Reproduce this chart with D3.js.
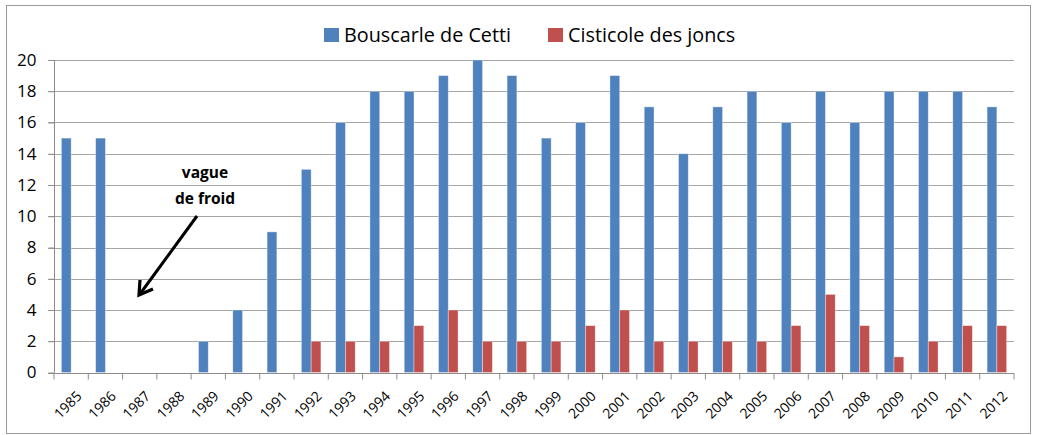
<!DOCTYPE html>
<html>
<head>
<meta charset="utf-8">
<script src="https://cdn.jsdelivr.net/npm/d3@7"></script>
<style>
  body { margin: 0; background: #fff; }
  svg text { font-family: "Open Sans", "Noto Sans", sans-serif; fill: #000; }
</style>
</head>
<body>
<div id="graf"></div>
<script>
// Données
var annees = ["1985","1986","1987","1988","1989","1990","1991","1992","1993","1994",
  "1995","1996","1997","1998","1999","2000","2001","2002","2003","2004",
  "2005","2006","2007","2008","2009","2010","2011","2012"];
var bouscarle = [15,15,0,0,2,4,9,13,16,18,18,19,20,19,15,16,19,17,14,17,18,16,18,16,18,18,18,17];
var cisticole = [0,0,0,0,0,0,0,2,2,2,3,4,2,2,2,3,4,2,2,2,2,3,5,3,1,2,3,3];
var series = ["Bouscarle de Cetti", "Cisticole des joncs"];
var yTicks = [0,2,4,6,8,10,12,14,16,18,20];

var ancho_total = 1038, alto_total = 435;
var margins = { top: 60, left: 54, right: 24, bottom: 62 };
var ancho = 1014 - margins.left;
var alto = 372.5 - margins.top;

var svg = d3.select("#graf").append("svg")
  .attr("width", ancho_total)
  .attr("height", alto_total);

// cadre
svg.append("rect")
  .attr("x", 6.5).attr("y", 5.5)
  .attr("width", 1024).attr("height", 428)
  .attr("fill", "none")
  .attr("stroke", "#9a9a9a")
  .attr("stroke-width", 1);

var g = svg.append("g")
  .attr("transform", `translate(${margins.left}, ${margins.top})`);

// Escalas
var x = d3.scaleBand().domain(annees).range([0, ancho]).paddingInner(0).paddingOuter(0);
var xSub = d3.scaleBand().domain(series).range([x.bandwidth() * 0.215, x.bandwidth() * 0.785]);
var y = d3.scaleLinear().domain([0, 20]).range([alto, 0]);
var color = d3.scaleOrdinal().domain(series).range(["#4F81BD", "#C0504D"]);

// grille
g.append("g").selectAll("line").data(yTicks.filter(d => d > 0)).join("line")
  .attr("x1", -6).attr("x2", ancho)
  .attr("y1", d => Math.round(y(d)) + 0.5).attr("y2", d => Math.round(y(d)) + 0.5)
  .attr("stroke", "#a6a6a6").attr("stroke-width", 1.2);

// barres
var filas = annees.map((a, i) => ({ annee: a, valeurs: [bouscarle[i], cisticole[i]] }));
var grupos = g.append("g").selectAll("g").data(filas).join("g")
  .attr("transform", d => `translate(${x(d.annee)},0)`);
grupos.selectAll("rect")
  .data(d => d.valeurs.map((v, k) => ({ serie: series[k], v: v })).filter(e => e.v > 0))
  .join("rect")
  .attr("x", d => xSub(d.serie))
  .attr("width", xSub.bandwidth())
  .attr("y", d => y(d.v))
  .attr("height", d => y(0) - y(d.v))
  .attr("fill", d => color(d.serie))
  .attr("stroke", "rgba(255,255,255,0.45)")
  .attr("stroke-width", 0.8);

// Ejes
var yAxis = g.append("g")
  .attr("transform", "translate(0.5,0)")
  .call(d3.axisLeft(y).tickValues(yTicks).tickSize(6).tickPadding(12));
yAxis.selectAll("text").style("font-size", "17px");
yAxis.selectAll("line, path").attr("stroke", "#8c8c8c");
yAxis.select(".domain").attr("d", `M0,${y(20)}V${y(0)}`);

var xAxis = g.append("g")
  .attr("transform", `translate(0, ${Math.round(alto) + 0.5})`);
xAxis.append("line").attr("x1", -6).attr("x2", ancho).attr("stroke", "#8c8c8c").attr("stroke-width", 1.2);
xAxis.selectAll("line.tick").data(annees.concat(["fin"])).join("line")
  .attr("class", "tick")
  .attr("x1", (d, i) => i * x.step()).attr("x2", (d, i) => i * x.step())
  .attr("y1", 0).attr("y2", 6)
  .attr("stroke", "#8c8c8c");
xAxis.selectAll("text").data(annees).join("text")
  .attr("transform", d => `translate(${x(d) + x.bandwidth() / 2 + 8}, 20) rotate(-45)`)
  .attr("text-anchor", "end")
  .attr("dy", "0.35em")
  .style("font-size", "14px")
  .text(d => d);

// légende
var leyenda = svg.append("g").attr("transform", "translate(324, 28)");
var posLeyenda = [0, 224];
series.forEach((s, i) => {
  var it = leyenda.append("g").attr("transform", `translate(${posLeyenda[i]},0)`);
  it.append("rect").attr("width", 15).attr("height", 14).attr("fill", color(s));
  it.append("text").attr("x", 20).attr("y", 14).style("font-size", "19.8px").text(s);
});

// annotation vague de froid
var note = svg.append("g");
note.append("text").attr("x", 205).attr("y", 178).attr("text-anchor", "middle")
  .style("font-size", "15.5px").style("font-weight", "bold").text("vague");
note.append("text").attr("x", 205).attr("y", 204).attr("text-anchor", "middle")
  .style("font-size", "15.5px").style("font-weight", "bold").text("de froid");
note.append("line")
  .attr("x1", 197).attr("y1", 216).attr("x2", 140).attr("y2", 294)
  .attr("stroke", "#000").attr("stroke-width", 3);
note.append("path")
  .attr("d", "M140,280 L139,295 L153,289")
  .attr("fill", "none").attr("stroke", "#000").attr("stroke-width", 3.2)
  .attr("stroke-linejoin", "miter");
</script>
</body>
</html>
